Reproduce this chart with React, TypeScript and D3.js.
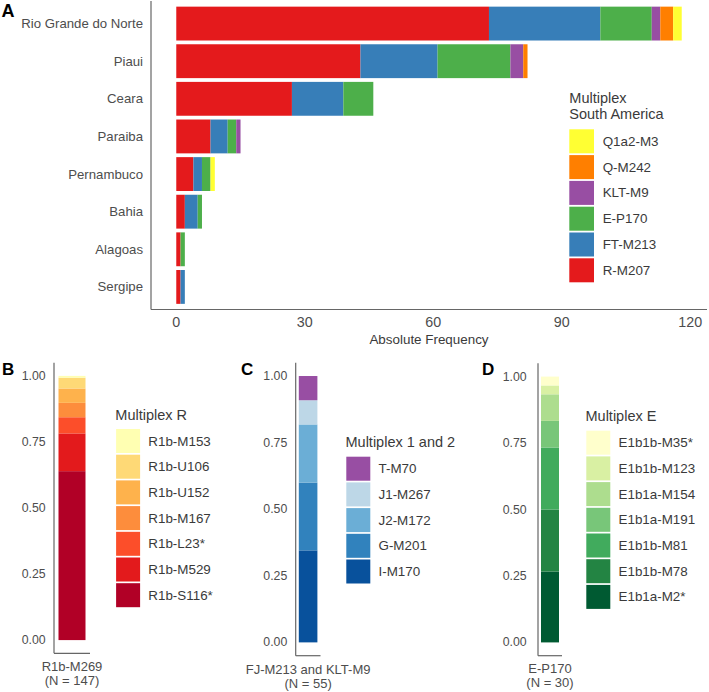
import React from 'react';
import * as d3 from 'd3';

// ---------- Panel A data ----------
const states = ["Rio Grande do Norte", "Piaui", "Ceara", "Paraiba", "Pernambuco", "Bahia", "Alagoas", "Sergipe"];
const saKeys = ["R-M207", "FT-M213", "E-P170", "KLT-M9", "Q-M242", "Q1a2-M3"];
const rM207 = [73, 43, 27, 8, 4, 2, 1, 1];
const ftM213 = [26, 18, 12, 4, 2, 3, 0, 1];
const eP170 = [12, 17, 7, 2, 2, 1, 1, 0];
const kltM9 = [2, 3, 0, 1, 0, 0, 0, 0];
const qM242 = [3, 1, 0, 0, 0, 0, 0, 0];
const q1a2M3 = [2, 0, 0, 0, 1, 0, 0, 0];
const saColors = ["#e41a1c", "#377eb8", "#4daf4a", "#984ea3", "#ff7f00", "#ffff33"];
const xTicksA = [0, 30, 60, 90, 120];

// ---------- Panel B data ----------
const rKeys = ["R1b-S116*", "R1b-M529", "R1b-L23*", "R1b-M167", "R1b-U152", "R1b-U106", "R1b-M153"];
const rCounts = [94, 21, 9, 8, 8, 6, 1];
const rColors = ["#b10026", "#e31a1c", "#fc4e2a", "#fd8d3c", "#feb24c", "#fed976", "#ffffb2"];

// ---------- Panel C data ----------
const m12Keys = ["I-M170", "G-M201", "J2-M172", "J1-M267", "T-M70"];
const m12Counts = [19, 14, 12, 5, 5];
const m12Colors = ["#08519c", "#3182bd", "#6baed6", "#bdd7e7", "#984ea3"];

// ---------- Panel D data ----------
const eKeys = ["E1b1a-M2*", "E1b1b-M78", "E1b1b-M81", "E1b1a-M191", "E1b1a-M154", "E1b1b-M123", "E1b1b-M35*"];
const eCounts = [8, 7, 7, 3, 3, 1, 1];
const eColors = ["#005a32", "#238443", "#41ab5d", "#78c679", "#addd8e", "#d9f0a3", "#ffffcc"];

const yTicksProp = [0, 0.25, 0.5, 0.75, 1];

const FONT = "'Liberation Sans', Arial, Helvetica, sans-serif";
const AXIS_COL = "#666";
const TEXT_COL = "#4d4d4d";
const LEG_COL = "#3a3a3a";

function PanelA() {
  const seriesArrays = [rM207, ftM213, eP170, kltM9, qM242, q1a2M3];
  const rows = states.map((s, i) => {
    const r: any = { state: s };
    saKeys.forEach((k, j) => { r[k] = seriesArrays[j][i]; });
    return r;
  });
  const stacked = d3.stack().keys(saKeys)(rows);
  const total = d3.max(rows, (r: any) => d3.sum(saKeys, k => r[k])) as number;
  const pad = total * 0.05;
  const x = d3.scaleLinear().domain([-pad, total + pad]).range([151, 707]);
  const y = d3.scaleBand().domain(states).range([1, 309.5]).paddingInner(0.1).paddingOuter(0.15);
  const color = d3.scaleOrdinal<string, string>().domain(saKeys).range(saColors);
  const legendKeys = saKeys.slice().reverse();
  return (
    <g>
      {stacked.map(layer => (
        <g key={layer.key} fill={color(layer.key)}>
          {layer.map((d, i) => (
            d[1] - d[0] > 0 ? (
              <rect key={i} x={x(d[0])} width={x(d[1]) - x(d[0])} y={y(states[i])} height={y.bandwidth()} />
            ) : null
          ))}
        </g>
      ))}
      <line x1={151} x2={151} y1={1} y2={309.5} stroke={AXIS_COL} strokeWidth={1.2} />
      <line x1={151} x2={707} y1={309.5} y2={309.5} stroke={AXIS_COL} strokeWidth={1.2} />
      {states.map(s => (
        <text key={s} x={143} y={(y(s) as number) + y.bandwidth() / 2} textAnchor="end" dominantBaseline="central"
          fontSize={13.2} fill={TEXT_COL}>{s}</text>
      ))}
      {xTicksA.map(t => (
        <text key={t} x={x(t)} y={322} textAnchor="middle" dominantBaseline="central" fontSize={14.3} fill={TEXT_COL}>{t}</text>
      ))}
      <text x={429} y={339} textAnchor="middle" dominantBaseline="central" fontSize={13.4} fill={LEG_COL}>Absolute Frequency</text>
      <text x={1.5} y={17} fontSize={18} fontWeight="bold" fill="#000">A</text>
      {/* legend */}
      <text x={569.3} y={98.3} dominantBaseline="central" fontSize={14.5} fill={LEG_COL}>Multiplex</text>
      <text x={569.3} y={113.5} dominantBaseline="central" fontSize={14.5} fill={LEG_COL}>South America</text>
      {legendKeys.map((k, i) => (
        <g key={k}>
          <rect x={569.3} y={129.3 + i * 25.8} width={24.7} height={24} fill={color(k)} />
          <text x={602.7} y={129.3 + i * 25.8 + 12} dominantBaseline="central" fontSize={13.4} fill={LEG_COL}>{k}</text>
        </g>
      ))}
    </g>
  );
}

type PropPanelProps = {
  letter: string; letterX: number;
  axisX0: number; axisX1: number; top: number; bottom: number;
  tickRight: number;
  keys: string[]; counts: number[]; colors: string[];
  catLabel: string; labelY: number;
  legendTitle: string; legendX: number; legendTitleY: number; legendTop: number;
};

function PropPanel(p: PropPanelProps) {
  const total = d3.sum(p.counts);
  const row: any = { cat: p.catLabel };
  p.keys.forEach((k, i) => { row[k] = p.counts[i] / total; });
  const stacked = d3.stack().keys(p.keys)([row]);
  const y = d3.scaleLinear().domain([-0.05, 1.05]).range([p.bottom, p.top]);
  const x = d3.scaleBand().domain([p.catLabel]).range([p.axisX0, p.axisX1]).paddingInner(0.1).paddingOuter(0.15);
  const color = d3.scaleOrdinal<string, string>().domain(p.keys).range(p.colors);
  const legendKeys = p.keys.slice().reverse();
  const cx = (x(p.catLabel) as number) + x.bandwidth() / 2;
  return (
    <g>
      {stacked.map(layer => (
        <rect key={layer.key} x={x(p.catLabel)} width={x.bandwidth()}
          y={y(layer[0][1])} height={y(layer[0][0]) - y(layer[0][1])} fill={color(layer.key)} />
      ))}
      <line x1={p.axisX0} x2={p.axisX0} y1={p.top} y2={p.bottom} stroke={AXIS_COL} strokeWidth={1.2} />
      <line x1={p.axisX0} x2={p.axisX1} y1={p.bottom} y2={p.bottom} stroke={AXIS_COL} strokeWidth={1.2} />
      {yTicksProp.map(t => (
        <text key={t} x={p.tickRight} y={y(t)} textAnchor="end" dominantBaseline="central" fontSize={12.3} fill={TEXT_COL}>
          {d3.format(".2f")(t)}
        </text>
      ))}
      <text x={cx} y={p.labelY} textAnchor="middle" dominantBaseline="central" fontSize={13} fill={TEXT_COL}>{p.catLabel}</text>
      <text x={cx} y={p.labelY + 14} textAnchor="middle" dominantBaseline="central" fontSize={13} fill={TEXT_COL}>{`(N = ${total})`}</text>
      <text x={p.letterX} y={375} fontSize={17} fontWeight="bold" fill="#000">{p.letter}</text>
      <text x={p.legendX} y={p.legendTitleY} dominantBaseline="central" fontSize={14.5} fill={LEG_COL}>{p.legendTitle}</text>
      {legendKeys.map((k, i) => (
        <g key={k}>
          <rect x={p.legendX + 0.8} y={p.legendTop + i * 25.7} width={24} height={24} fill={color(k)} />
          <text x={p.legendX + 33} y={p.legendTop + i * 25.7 + 12} dominantBaseline="central" fontSize={13.4} fill={LEG_COL}>{k}</text>
        </g>
      ))}
    </g>
  );
}

export default function App() {
  return (
    <svg width={709} height={692} style={{ position: 'absolute', left: 0, top: 0, display: 'block', background: '#fff' }}
      fontFamily={FONT}>
      <rect x={0} y={0} width={709} height={692} fill="#fff" />
      <PanelA />
      <PropPanel letter="B" letterX={2} axisX0={54} axisX1={90} top={362.7} bottom={653.3} tickRight={45.7}
        keys={rKeys} counts={rCounts} colors={rColors} catLabel="R1b-M269" labelY={666.5}
        legendTitle="Multiplex R" legendX={115.3} legendTitleY={415} legendTop={429} />
      <PropPanel letter="C" letterX={241} axisX0={295.7} axisX1={320.5} top={362.7} bottom={655.7} tickRight={287.3}
        keys={m12Keys} counts={m12Counts} colors={m12Colors} catLabel="FJ-M213 and KLT-M9" labelY={669}
        legendTitle="Multiplex 1 and 2" legendX={345.5} legendTitleY={442.3} legendTop={456.7} />
      <PropPanel letter="D" letterX={482} axisX0={538} axisX1={562} top={363.3} bottom={655.7} tickRight={526.7}
        keys={eKeys} counts={eCounts} colors={eColors} catLabel="E-P170" labelY={668.5}
        legendTitle="Multiplex E" legendX={585.5} legendTitleY={416} legendTop={430.7} />
    </svg>
  );
}
